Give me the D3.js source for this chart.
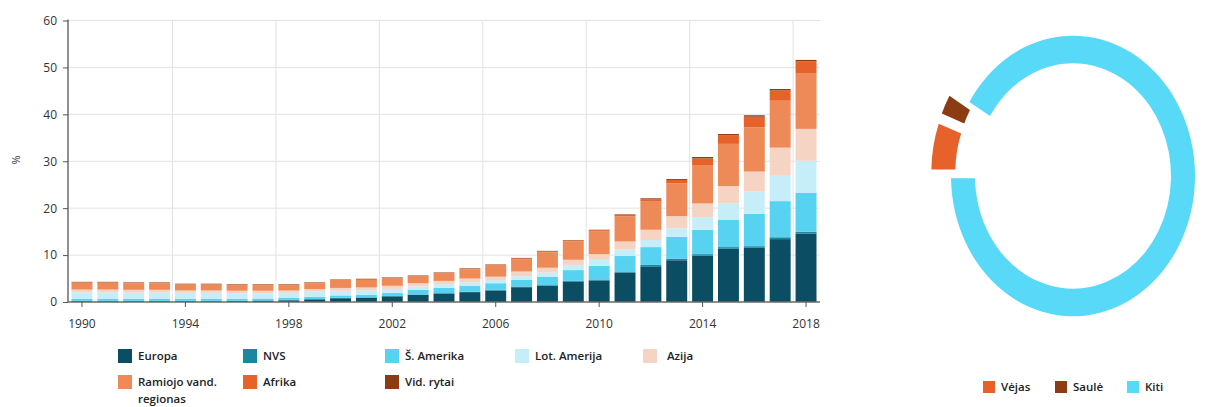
<!DOCTYPE html>
<html>
<head>
<meta charset="utf-8">
<script src="https://cdn.jsdelivr.net/npm/d3@7"></script>
<style>
  body { margin: 0; background: #fff; }
  svg { display: block; font-family: "Open Sans", sans-serif; }
</style>
</head>
<body>
<svg id="chart" width="1218" height="407"></svg>
<script>
var years = d3.range(1990, 2019);

var seriesNames = ["Europa", "NVS", "Š. Amerika", "Lot. Amerija", "Azija", "Ramiojo vand. regionas", "Afrika", "Vid. rytai"];
var seriesColors = ["#0b4d62", "#1a86a2", "#58d2f1", "#c6eef9", "#f6d4c4", "#ee8a57", "#e6622a", "#8c3c12"];

// values, % per year 1990..2018
var europa = [0.15, 0.15, 0.15, 0.15, 0.15, 0.15, 0.2, 0.25, 0.35, 0.55, 0.8, 0.9, 1.2, 1.5, 1.8, 2.1, 2.45, 3.15, 3.45, 4.3, 4.6, 6.25, 7.6, 8.9, 9.9, 11.35, 11.55, 13.4, 14.6];
var nvs = [0.1, 0.1, 0.1, 0.1, 0.1, 0.1, 0.1, 0.1, 0.1, 0.1, 0.1, 0.1, 0.1, 0.1, 0.1, 0.1, 0.15, 0.15, 0.15, 0.2, 0.2, 0.25, 0.3, 0.3, 0.3, 0.35, 0.35, 0.4, 0.4];
var siaurAmerika = [0.4, 0.4, 0.4, 0.4, 0.4, 0.4, 0.4, 0.4, 0.4, 0.45, 0.5, 0.55, 0.6, 1.0, 1.1, 1.2, 1.4, 1.4, 1.8, 2.3, 2.9, 3.3, 3.8, 4.7, 5.2, 5.8, 6.9, 7.7, 8.3];
var lotAmerija = [1.4, 1.4, 1.35, 1.35, 1.3, 1.3, 1.2, 1.15, 1.1, 1.1, 1.0, 0.95, 0.9, 0.7, 0.8, 0.8, 0.7, 0.8, 0.9, 1.1, 1.3, 1.4, 1.5, 1.8, 2.7, 3.5, 4.7, 5.4, 6.8];
var azija = [0.6, 0.6, 0.6, 0.6, 0.5, 0.5, 0.5, 0.5, 0.5, 0.55, 0.6, 0.6, 0.65, 0.7, 0.7, 0.8, 0.7, 1.0, 1.0, 1.1, 1.2, 1.7, 2.2, 2.6, 2.9, 3.7, 4.3, 6.0, 6.8];
var ramiojo = [1.45, 1.45, 1.4, 1.4, 1.25, 1.25, 1.2, 1.2, 1.15, 1.25, 1.55, 1.6, 1.55, 1.4, 1.55, 1.95, 2.35, 2.6, 3.3, 3.9, 4.9, 5.4, 6.0, 7.0, 8.2, 9.0, 9.4, 10.0, 11.9];
var afrika = [0.1, 0.1, 0.1, 0.1, 0.1, 0.1, 0.1, 0.1, 0.1, 0.1, 0.15, 0.15, 0.15, 0.15, 0.15, 0.15, 0.15, 0.2, 0.2, 0.2, 0.2, 0.3, 0.5, 0.7, 1.4, 1.8, 2.3, 2.2, 2.5];
var vidRytai = [0.1, 0.1, 0.1, 0.1, 0.1, 0.1, 0.1, 0.1, 0.1, 0.1, 0.1, 0.1, 0.1, 0.1, 0.1, 0.1, 0.1, 0.1, 0.1, 0.1, 0.1, 0.1, 0.2, 0.2, 0.3, 0.3, 0.3, 0.3, 0.3];

var yTicks = [0, 10, 20, 30, 40, 50, 60];
var xTickYears = [1990, 1994, 1998, 2002, 2006, 2010, 2014, 2018];

var donutLabels = ["Vėjas", "Saulė", "Kiti"];
var donutValues = [5.5, 2.4, 92.1];
var donutColors = ["#e6622a", "#8c3c12", "#58d9f7"];

var seriesValues = [europa, nvs, siaurAmerika, lotAmerija, azija, ramiojo, afrika, vidRytai];

var rows = years.map(function (yr, i) {
	var r = { year: yr };
	seriesNames.forEach(function (n, k) { r[n] = seriesValues[k][i]; });
	return r;
});

var svg = d3.select("#chart");

var plotLeft = 68, plotRight = 820, plotTop = 20.5, plotBottom = 302;

var x = d3.scaleBand()
		.domain(years)
		.range([plotLeft, plotRight])
		.paddingInner(0.19)
		.paddingOuter(0.135);

var y = d3.scaleLinear()
		.domain([0, 60])
		.range([plotBottom, plotTop]);

// grid
svg.append("g")
	.selectAll("line")
	.data(yTicks.slice(1))
	.enter().append("line")
		.attr("x1", plotLeft).attr("x2", plotRight)
		.attr("y1", function (d) { return y(d); })
		.attr("y2", function (d) { return y(d); })
		.attr("stroke", "#e2e2e2");

svg.append("g")
	.selectAll("line")
	.data(xTickYears.slice(1))
	.enter().append("line")
		.attr("x1", function (d) { return x(d) + x.bandwidth() / 2 - x.step() / 2; })
		.attr("x2", function (d) { return x(d) + x.bandwidth() / 2 - x.step() / 2; })
		.attr("y1", plotTop).attr("y2", plotBottom)
		.attr("stroke", "#e2e2e2");

// stacked bars
var stack = d3.stack().keys(seriesNames)(rows);

svg.append("g")
	.selectAll("g")
	.data(stack)
	.enter().append("g")
		.attr("fill", function (d, i) { return seriesColors[i]; })
	.selectAll("rect")
	.data(function (d) { return d; })
	.enter().append("rect")
		.attr("x", function (d) { return x(d.data.year); })
		.attr("width", x.bandwidth())
		.attr("y", function (d) { return y(d[1]); })
		.attr("height", function (d) { return y(d[0]) - y(d[1]); });

// axes
var yAxis = svg.append("g")
	.attr("transform", "translate(" + plotLeft + ",0)")
	.call(d3.axisLeft(y).tickValues(yTicks).tickSize(5).tickPadding(6));

var xAxis = svg.append("g")
	.attr("transform", "translate(0," + plotBottom + ")")
	.call(d3.axisBottom(x).tickValues(xTickYears).tickSize(5).tickPadding(12).tickSizeOuter(0));

[yAxis, xAxis].forEach(function (a) {
	a.select(".domain").attr("stroke", "#6b6b6b").attr("stroke-width", 1.5);
	a.selectAll(".tick line").attr("stroke", "#555");
	a.selectAll("text").attr("fill", "#333").style("font-size", "12px").style("font-family", "Open Sans, sans-serif");
});
yAxis.select(".domain").attr("d", "M0," + (plotTop - 1) + "V" + plotBottom);
xAxis.select(".domain").attr("d", "M" + plotLeft + ",0H" + plotRight);

svg.append("text")
	.attr("transform", "translate(20,160) rotate(-90)")
	.attr("text-anchor", "middle")
	.attr("fill", "#333")
	.style("font-size", "11px")
	.text("%");

// legend under bars
var legCols = [118, 243, 385, 515, 643];
var legRows = [349, 375];
var legend = svg.append("g")
	.selectAll("g")
	.data(seriesNames)
	.enter().append("g")
		.attr("transform", function (d, i) {
			return "translate(" + legCols[i % 5] + "," + legRows[Math.floor(i / 5)] + ")";
		});

legend.append("rect")
	.attr("width", 14).attr("height", 14)
	.attr("fill", function (d, i) { return seriesColors[i]; });

legend.append("text")
	.attr("x", function (d, i) { return i === 4 ? 24 : 20; })
	.attr("y", 11)
	.attr("fill", "#222")
	.style("font-size", "11.5px")
	.style("font-weight", 600)
	.each(function (d) {
		var parts = d === "Ramiojo vand. regionas" ? ["Ramiojo vand.", "regionas"] : [d];
		var t = d3.select(this);
		parts.forEach(function (p, j) {
			t.append("tspan").attr("x", t.attr("x")).attr("dy", j ? 17 : 0).text(p);
		});
	});

// donut
var cx = 1073, cy = 176, rOuter = 122, rInner = 98;
var pie = d3.pie().sort(null).startAngle(-Math.PI / 2).endAngle(Math.PI * 1.5).padAngle(0.025);
var arc = d3.arc().innerRadius(rInner).outerRadius(rOuter);

var donut = svg.append("g")
	.attr("transform", "translate(" + cx + "," + cy + ") scale(1,1.15)");

donut.selectAll("path")
	.data(pie(donutValues))
	.enter().append("path")
		.attr("d", arc)
		.attr("fill", function (d, i) { return donutColors[i]; })
		.attr("transform", function (d, i) {
			if (i === 2) return null;
			var a = (d.startAngle + d.endAngle) / 2, off = 20;
			return "translate(" + (Math.sin(a) * off) + "," + (-Math.cos(a) * off) + ")";
		});

var dLeg = svg.append("g")
	.selectAll("g")
	.data(donutLabels)
	.enter().append("g")
		.attr("transform", function (d, i) { return "translate(" + [983, 1055, 1127][i] + ",381)"; });

dLeg.append("rect")
	.attr("width", 12).attr("height", 12)
	.attr("fill", function (d, i) { return donutColors[i]; });

dLeg.append("text")
	.attr("x", 18).attr("y", 10)
	.attr("fill", "#222")
	.style("font-size", "11.5px")
	.style("font-weight", 600)
	.text(function (d) { return d; });
</script>
</body>
</html>
